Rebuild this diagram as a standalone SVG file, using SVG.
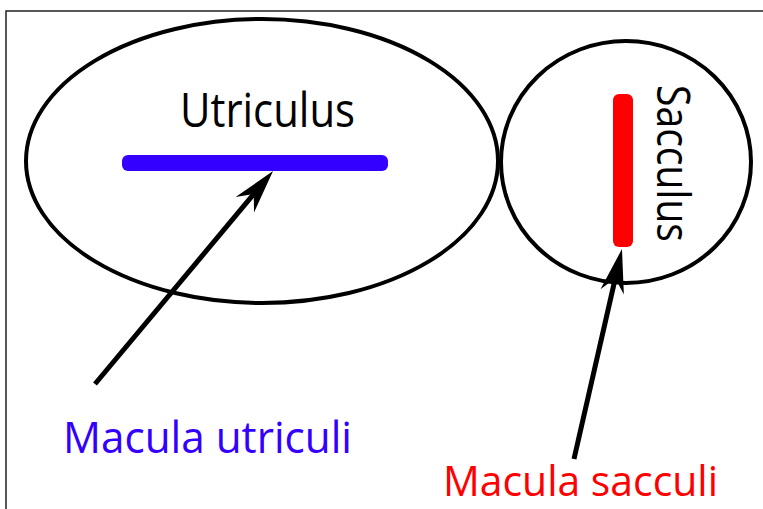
<svg xmlns="http://www.w3.org/2000/svg" width="763" height="509" viewBox="0 0 763 509">
<style>
.organ{fill:none;stroke:#000;stroke-width:4}
.lbl{font-family:"Open Sans","Noto Sans",sans-serif}
.conn{stroke:#000;stroke-width:5;fill:none;stroke-linecap:butt}
</style>
<defs>
<marker id="ah" markerUnits="userSpaceOnUse" viewBox="0 0 46 26" markerWidth="46" markerHeight="26" refX="19" refY="13" orient="auto">
<path d="M44,13 L0,1 L14,13 L0,25 Z" fill="#000"/>
</marker>
</defs>
<rect width="763" height="509" fill="#fff"/>
<path d="M6,509 V11 H763" fill="none" stroke="#222" stroke-width="1.5"/>
<g id="utriculus">
<ellipse class="organ" cx="262" cy="161" rx="236" ry="142"/>
<text class="lbl" x="180" y="127" font-size="47" textLength="175" lengthAdjust="spacingAndGlyphs">Utriculus</text>
</g>
<g id="macula-utriculi">
<rect x="122" y="155" width="266" height="16" rx="6" fill="#3300ff"/>
</g>
<g id="sacculus">
<ellipse class="organ" cx="626" cy="162" rx="125" ry="121"/>
<text class="lbl" transform="translate(657,85) rotate(90)" x="0" y="0" font-size="45" textLength="157" lengthAdjust="spacingAndGlyphs">Sacculus</text>
</g>
<g id="macula-sacculi">
<rect x="613" y="94" width="20" height="153" rx="6" fill="#ff0000"/>
</g>
<g id="label-utriculi">
<text class="lbl" x="63" y="453" font-size="43" fill="#3300ff" textLength="289" lengthAdjust="spacingAndGlyphs">Macula utriculi</text>
</g>
<g id="label-sacculi">
<text class="lbl" x="443" y="496" font-size="42" fill="#ff0000" textLength="275" lengthAdjust="spacingAndGlyphs">Macula sacculi</text>
</g>
<g id="connectors">
<line class="conn" x1="95" y1="384" x2="257" y2="190.2" marker-end="url(#ah)"/>
<line class="conn" x1="574" y1="459" x2="616.4" y2="273.4" marker-end="url(#ah)"/>
</g>
</svg>
